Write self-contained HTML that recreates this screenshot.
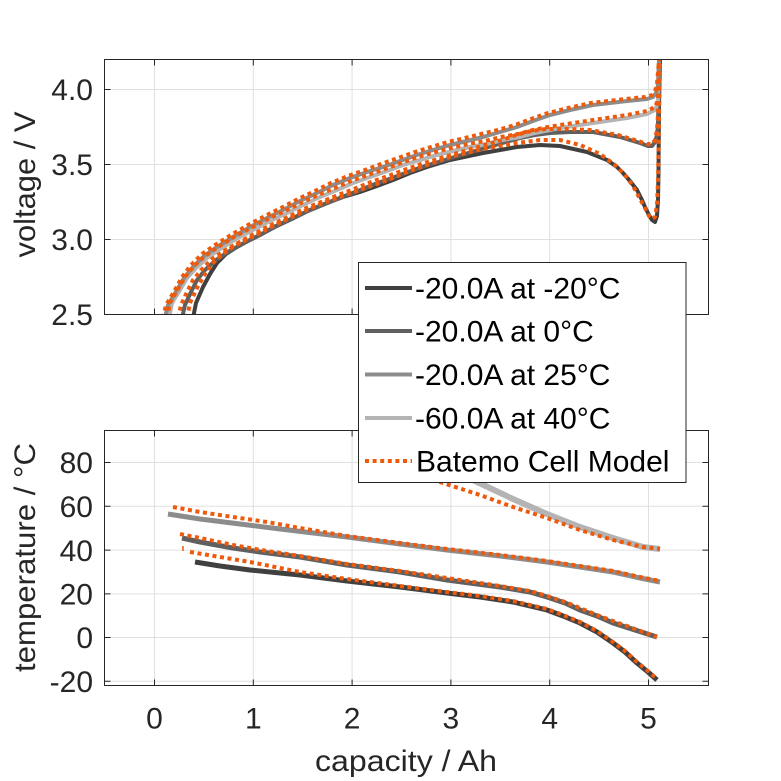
<!DOCTYPE html>
<html><head><meta charset="utf-8"><style>
html,body{margin:0;padding:0;background:#fff;}
svg{display:block;}
text{font-family:"Liberation Sans",sans-serif;}
</style></head><body>
<svg width="781" height="781" viewBox="0 0 781 781" xmlns="http://www.w3.org/2000/svg">
<defs>
<clipPath id="ct"><rect x="104.5" y="59.5" width="604" height="255"/></clipPath>
<clipPath id="cb"><rect x="104.5" y="430.5" width="604" height="255"/></clipPath>
</defs>
<rect width="781" height="781" fill="#fff"/>

<!-- TOP AXES grid -->
<g stroke="#e0e0e0" stroke-width="1">
<line x1="154.5" y1="59.5" x2="154.5" y2="314.5"/>
<line x1="253.3" y1="59.5" x2="253.3" y2="314.5"/>
<line x1="352.1" y1="59.5" x2="352.1" y2="314.5"/>
<line x1="450.9" y1="59.5" x2="450.9" y2="314.5"/>
<line x1="549.7" y1="59.5" x2="549.7" y2="314.5"/>
<line x1="648.5" y1="59.5" x2="648.5" y2="314.5"/>
<line x1="104.5" y1="89.5" x2="708.5" y2="89.5"/>
<line x1="104.5" y1="164.5" x2="708.5" y2="164.5"/>
<line x1="104.5" y1="239.5" x2="708.5" y2="239.5"/>
</g>
<!-- BOTTOM AXES grid -->
<g stroke="#e0e0e0" stroke-width="1">
<line x1="154.5" y1="430.5" x2="154.5" y2="685.5"/>
<line x1="253.3" y1="430.5" x2="253.3" y2="685.5"/>
<line x1="352.1" y1="430.5" x2="352.1" y2="685.5"/>
<line x1="450.9" y1="430.5" x2="450.9" y2="685.5"/>
<line x1="549.7" y1="430.5" x2="549.7" y2="685.5"/>
<line x1="648.5" y1="430.5" x2="648.5" y2="685.5"/>
<line x1="104.5" y1="462.5" x2="708.5" y2="462.5"/>
<line x1="104.5" y1="506.3" x2="708.5" y2="506.3"/>
<line x1="104.5" y1="550.1" x2="708.5" y2="550.1"/>
<line x1="104.5" y1="593.9" x2="708.5" y2="593.9"/>
<line x1="104.5" y1="637.5" x2="708.5" y2="637.5"/>
<line x1="104.5" y1="681.3" x2="708.5" y2="681.3"/>
</g>

<!-- TOP curves -->
<g clip-path="url(#ct)" fill="none" stroke-linejoin="round" stroke-width="4">
<polyline stroke="#404040" points="193,318 196,303 203,287 210,274 217,263 226,254 237,247 248,241 260,235 276,226 293,218 310,210 327,203 343,197 360,192 377,186 393,180 410,173 427,167 450,160 483,153 517,147 540,145 560,146 587,152 607,160 617,167 623,173 630,181 637,190 642,200 645,207 649,215 652,220 655,222 657,216 658,200 658.5,173 659,107 660,60"/>
<polyline stroke="#606060" points="182,318 185,305 191,292 197,280 205,270 216,260 228,252 242,244 258,236 275,227 292,219 308,211 325,204 342,197 358,191 375,184 392,178 408,172 425,166 442,161 458,156 475,151 492,146 506,142 520,138 535,135 550,133 570,132 593,132 620,137 640,143 648,146 652,146 655,142 657,135 658,125 658.5,100 659,60"/>
<polyline stroke="#b4b4b4" points="169,318 172,303 180,290 187,278 196,268 207,258 220,249 236,239 253,230 270,221 287,213 303,205 320,197 337,190 353,183 370,177 387,171 403,165 420,160 437,155 453,151 470,147 487,144 503,140 520,137 535,133 550,130 560,128 593,123 627,118 647,114 655,110 658,103 659,60"/>
<polyline stroke="#8c8c8c" points="165,318 168,305 177,290 184,278 193,267 204,256 217,247 233,237 250,227 267,218 283,210 300,201 317,193 333,185 350,178 367,172 383,167 400,161 417,155 433,150 450,145 467,141 483,137 500,132 517,127 533,121 550,115 570,110 593,105 627,101 647,99 653,97 656,93 658,85 659,60"/>
</g>
<g clip-path="url(#ct)" fill="none" stroke="#ee5a0c" stroke-width="4" stroke-dasharray="4 3.6">
<polyline points="187,318 190,303 197,288 205,274 213,263 223,254 234,246 246,240 258,234 275,225 292,217 309,209 326,202 343,196 360,190 377,184 393,178 410,171 427,165 450,157 483,149 517,143 540,140 560,140 580,145 600,154 615,165 625,175 633,186 640,199 645,208 649,216 652,219 655,217 657,205 658,180 659,120 660,60"/>
<polyline points="178,318 181,305 187,292 193,280 201,270 212,259 224,251 238,243 254,234 271,225 288,217 304,209 321,202 338,195 354,189 371,182 388,176 404,170 421,164 438,159 454,154 471,149 488,144 502,140 516,135 531,131 546,129 566,129 590,130 618,135 638,141 647,144 652,144 655,140 657,130 658,115 659,60"/>
<polyline points="167,318 170,303 178,289 185,277 194,266 205,256 218,247 234,237 251,228 268,219 285,211 301,203 318,195 335,188 351,181 368,175 385,169 401,163 418,157 435,152 451,148 468,144 485,141 501,137 518,134 533,130 548,127 560,125 593,120 627,115 647,111 655,107 658,100 659,60"/>
<polyline points="163,318 166,305 175,290 182,277 191,265 202,254 215,245 231,235 248,225 265,216 281,208 298,199 315,191 331,183 348,176 365,170 381,164 398,158 415,152 431,147 448,142 465,138 481,134 498,130 515,125 531,119 548,113 568,108 591,103 625,99 645,97 652,95 655,91 657,84 659,60"/>
</g>

<!-- BOTTOM curves -->
<g clip-path="url(#cb)" fill="none" stroke-linejoin="round" stroke-width="5">
<polyline stroke="#404040" points="195,562 220,566 250,570 280,573 300,575 347,581 400,587 447,593 480,597 513,602 530,606 547,610 563,616 580,623 597,632 613,643 625,652 637,663 648,672 657,680"/>
<polyline stroke="#606060" points="182,538 200,542 233,548 260,552 300,557 347,565 400,572 447,580 500,587 530,592 547,597 565,603 580,610 597,616 613,623 635,630 657,637"/>
<polyline stroke="#8c8c8c" points="168,514 200,519 240,524 280,529 347,537 400,544 447,550 500,556 547,562 580,567 613,572 640,578 660,582"/>
<polyline stroke="#b4b4b4" stroke-width="6" points="360,427 430,460 477,482 513,499 547,514 580,527 613,538 643,547 660,549"/>
</g>
<g clip-path="url(#cb)" fill="none" stroke="#ee5a0c" stroke-width="4" stroke-dasharray="4 3.6">
<polyline points="190,552 220,557 250,562 280,568 300,572 347,579 400,586 447,592 480,596 513,601 530,605 547,609 563,615 580,622 597,631 613,642 625,651 637,662 648,671 657,679"/>
<polyline points="180,534 200,538 233,545 267,551 300,556 347,564 400,571 447,578 500,586 530,591 547,596 565,602 580,608 597,615 613,621 635,629 657,637"/>
<polyline points="173,507 200,512 233,517 267,522 300,528 347,536 400,543 447,549 500,555 547,561 580,566 613,571 640,577 660,581"/>
<polyline points="360,456 443,483 480,495 513,507 547,518 580,530 613,540 643,547 660,549"/>
</g>
<line x1="183" y1="546" x2="183" y2="551" stroke="#ee5a0c" stroke-width="1.5"/>

<!-- axes boxes and ticks -->
<g stroke="#262626" stroke-width="1" fill="none">
<rect x="104.5" y="59.5" width="604" height="255"/>
<rect x="104.5" y="430.5" width="604" height="255"/>
<path d="M154.5,314.5v-6M253.3,314.5v-6M352.1,314.5v-6M450.9,314.5v-6M549.7,314.5v-6M648.5,314.5v-6
M154.5,59.5v6M253.3,59.5v6M352.1,59.5v6M450.9,59.5v6M549.7,59.5v6M648.5,59.5v6
M104.5,89.5h6M104.5,164.5h6M104.5,239.5h6
M708.5,89.5h-6M708.5,164.5h-6M708.5,239.5h-6"/>
<path d="M154.5,685.5v-6M253.3,685.5v-6M352.1,685.5v-6M450.9,685.5v-6M549.7,685.5v-6M648.5,685.5v-6
M154.5,430.5v6M253.3,430.5v6M352.1,430.5v6M450.9,430.5v6M549.7,430.5v6M648.5,430.5v6
M104.5,462.5h6M104.5,506.3h6M104.5,550.1h6M104.5,593.9h6M104.5,637.5h6M104.5,681.3h6
M708.5,462.5h-6M708.5,506.3h-6M708.5,550.1h-6M708.5,593.9h-6M708.5,637.5h-6M708.5,681.3h-6"/>
</g>

<!-- tick labels -->
<g fill="#262626" font-size="30" text-anchor="end">
<text x="93" y="100">4.0</text>
<text x="93" y="175">3.5</text>
<text x="93" y="250">3.0</text>
<text x="93" y="325">2.5</text>
<text x="93" y="473">80</text>
<text x="93" y="517">60</text>
<text x="93" y="561">40</text>
<text x="93" y="604.5">20</text>
<text x="93" y="648">0</text>
<text x="93" y="692">-20</text>
</g>
<g fill="#262626" font-size="30" text-anchor="middle">
<text x="154.5" y="728.5">0</text>
<text x="253.3" y="728.5">1</text>
<text x="352.1" y="728.5">2</text>
<text x="450.9" y="728.5">3</text>
<text x="549.7" y="728.5">4</text>
<text x="648.5" y="728.5">5</text>
</g>

<!-- axis labels -->
<g fill="#262626" font-size="30" text-anchor="middle">
<text x="406" y="771" textLength="182" lengthAdjust="spacingAndGlyphs">capacity / Ah</text>
<text transform="translate(35,184.5) rotate(-90)" textLength="146" lengthAdjust="spacingAndGlyphs">voltage / V</text>
<text transform="translate(35,557.5) rotate(-90)" textLength="229" lengthAdjust="spacingAndGlyphs">temperature / °C</text>
</g>

<!-- legend -->
<rect x="358.5" y="262.5" width="327.5" height="220" fill="#fff" stroke="#262626" stroke-width="1"/>
<g stroke-width="4">
<line x1="365" y1="288" x2="412" y2="288" stroke="#404040"/>
<line x1="365" y1="331" x2="412" y2="331" stroke="#606060"/>
<line x1="365" y1="374.5" x2="412" y2="374.5" stroke="#8c8c8c"/>
<line x1="365" y1="418" x2="412" y2="418" stroke="#b4b4b4"/>
<line x1="365" y1="461" x2="412" y2="461" stroke="#ee5a0c" stroke-dasharray="4 3.6"/>
</g>
<g fill="#000" font-size="30">
<text x="415" y="298.5">-20.0A at -20°C</text>
<text x="415" y="341.5">-20.0A at 0°C</text>
<text x="415" y="385">-20.0A at 25°C</text>
<text x="415" y="428.5">-60.0A at 40°C</text>
<text x="416" y="471.5">Batemo Cell Model</text>
</g>
</svg>
</body></html>
